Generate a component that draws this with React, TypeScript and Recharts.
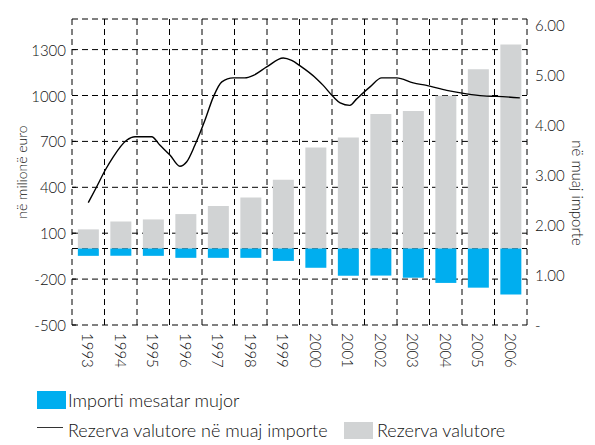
import React from 'react';
import { ComposedChart, Bar, Line, XAxis, YAxis, CartesianGrid, Label } from 'recharts';

const years = ['1993', '1994', '1995', '1996', '1997', '1998', '1999', '2000', '2001', '2002', '2003', '2004', '2005', '2006'];
// reserves, million euro
const reserves = [125, 177, 190, 225, 277, 333, 450, 660, 725, 879, 899, 998, 1172, 1334];
// average monthly imports (shown negative)
const imports = [-48, -48, -48, -61, -61, -61, -81, -126, -178, -177, -191, -225, -256, -301];

// reserves in months of imports, sub-annual readings
const lineX = [1993.0, 1993.26, 1993.52, 1993.77, 1994.18, 1994.44, 1994.95, 1995.21, 1995.52, 1995.82, 1996.03, 1996.28, 1996.59, 1996.85, 1997.11, 1997.46, 1997.82, 1998.08, 1998.49, 1999.0, 1999.26, 1999.52, 2000.03, 2000.23, 2000.54, 2000.75, 2001.05, 2001.26, 2001.67, 2002.03, 2002.49, 2003.0, 2003.41, 2004.03, 2004.64, 2005.16, 2005.57, 2006.28];
const lineMonths = [2.45, 2.77, 3.1, 3.37, 3.7, 3.77, 3.77, 3.6, 3.4, 3.18, 3.27, 3.6, 4.1, 4.57, 4.87, 4.95, 4.95, 5.0, 5.17, 5.35, 5.3, 5.19, 4.93, 4.8, 4.57, 4.45, 4.4, 4.53, 4.77, 4.95, 4.95, 4.85, 4.8, 4.7, 4.63, 4.59, 4.58, 4.55];

const leftTicks = [-500, -200, 0, 100, 400, 700, 1000, 1300, 1500];
const rightTicks = [0, 1, 2, 3, 4, 5, 6];
const boundaryTicks = [1992.5, 1993.5, 1994.5, 1995.5, 1996.5, 1997.5, 1998.5, 1999.5, 2000.5, 2001.5, 2002.5, 2003.5, 2004.5, 2005.5, 2006.5];

const data = years.map((y, i) => ({ year: y, reserve: reserves[i], imports: imports[i] }));
const lineData = lineX.map((x, i) => ({ x, months: lineMonths[i] }));

const FONT = 'Lato, "DejaVu Sans", sans-serif';
const TXT = '#111';
const BLUE = '#00aeef';
const GREY = '#d1d3d4';

const LeftTick = (props: any) => {
  const { x, y, payload } = props;
  const v = payload.value;
  return (
    <g>
      {v !== 1500 && <line x1={x} x2={x + 4} y1={y} y2={y} stroke="#000" />}
      {v !== 0 && v !== 1500 && (
        <text x={x - 6} y={y} textAnchor="end" dominantBaseline="central" fontSize={15} fontWeight={300} fill={TXT} fontFamily={FONT}>
          {v}
        </text>
      )}
    </g>
  );
};

const RightMark = (props: any) => {
  const { x, y, payload } = props;
  if (payload.value === 1500) return <g />;
  return <line x1={x - 4} x2={x} y1={y} y2={y} stroke="#000" />;
};

const RightTick = (props: any) => {
  const { x, y, payload } = props;
  const v = payload.value;
  return (
    <text x={x + 8} y={y} textAnchor="start" dominantBaseline="central" fontSize={15} fontWeight={300} fill={TXT} fontFamily={FONT}>
      {v === 0 ? '-' : v.toFixed(2)}
    </text>
  );
};

const YearTick = (props: any) => {
  const { x, y, payload } = props;
  return (
    <text
      x={x}
      y={y + 8}
      transform={`rotate(90, ${x}, ${y + 8})`}
      textAnchor="start"
      dominantBaseline="central"
      fontSize={15}
      fontWeight={300}
      fill={TXT}
      fontFamily={FONT}
    >
      {payload.value}
    </text>
  );
};

const legendText: React.CSSProperties = { fontFamily: FONT, fontSize: 18, fontWeight: 300, color: TXT, lineHeight: '18px' };

export default function App() {
  return (
    <div style={{ position: 'absolute', left: 0, top: 0, width: 595, height: 445, background: '#fff' }}>
      <ComposedChart
        width={595}
        height={445}
        data={data}
        stackOffset="sign"
        barCategoryGap="18%"
        margin={{ top: 19, right: 0, left: 0, bottom: 70 }}
      >
        <CartesianGrid xAxisId="num" yAxisId="left" stroke="#000" strokeDasharray="6 4" />
        <XAxis xAxisId="cat" dataKey="year" interval={0} axisLine={false} tickLine={false} tickSize={0} tickMargin={0} height={50} tick={<YearTick />} />
        <XAxis xAxisId="num" type="number" dataKey="x" domain={[1992.5, 2006.5]} ticks={boundaryTicks} interval={0} allowDataOverflow hide />
        <YAxis
          yAxisId="left"
          domain={[-500, 1500]}
          ticks={leftTicks}
          interval={0}
          width={72}
          axisLine={false}
          tickLine={false}
          tickSize={0}
          tickMargin={0}
          tick={<LeftTick />}
        >
          <Label
            content={({ viewBox }: any) => {
              const cx = viewBox.x + 21;
              const cy = viewBox.y + viewBox.height / 2;
              return (
                <text x={cx} y={cy} transform={`rotate(-90, ${cx}, ${cy})`} textAnchor="middle" dominantBaseline="central" fontSize={14} fontWeight={300} fill={TXT} fontFamily={FONT}>
                  në milionë euro
                </text>
              );
            }}
          />
        </YAxis>
        <YAxis
          yAxisId="marks"
          orientation="right"
          domain={[-500, 1500]}
          ticks={leftTicks}
          interval={0}
          width={0}
          axisLine={false}
          tickLine={false}
          tickSize={0}
          tickMargin={0}
          tick={<RightMark />}
        />
        <YAxis
          yAxisId="right"
          orientation="right"
          domain={[0, 6.13]}
          ticks={rightTicks}
          interval={0}
          width={68}
          allowDataOverflow
          axisLine={false}
          tickLine={false}
          tickSize={0}
          tickMargin={0}
          tick={<RightTick />}
        >
          <Label
            content={({ viewBox }: any) => {
              const cx = viewBox.x + 51;
              const cy = viewBox.y + viewBox.height / 2 + 21;
              return (
                <text x={cx} y={cy} transform={`rotate(90, ${cx}, ${cy})`} textAnchor="middle" dominantBaseline="central" fontSize={15} fontWeight={300} fill={TXT} fontFamily={FONT}>
                  në muaj importe
                </text>
              );
            }}
          />
        </YAxis>
        <Bar xAxisId="cat" yAxisId="left" dataKey="reserve" stackId="a" fill={GREY} isAnimationActive={false} />
        <Bar xAxisId="cat" yAxisId="left" dataKey="imports" stackId="a" fill={BLUE} isAnimationActive={false} />
        <Line
          xAxisId="num"
          yAxisId="right"
          data={lineData}
          dataKey="months"
          type="monotone"
          dot={false}
          activeDot={false}
          stroke="#000"
          strokeWidth={1.4}
          isAnimationActive={false}
        />
      </ComposedChart>
      <div style={{ position: 'absolute', left: 37, top: 391, display: 'flex', alignItems: 'center' }}>
        <span style={{ width: 29, height: 18, background: BLUE, display: 'inline-block' }} />
        <span style={{ ...legendText, marginLeft: 2 }}>Importi mesatar mujor</span>
      </div>
      <div style={{ position: 'absolute', left: 37, top: 421, display: 'flex', alignItems: 'center' }}>
        <span style={{ width: 26, height: 0, borderTop: '1.5px solid #333', display: 'inline-block', marginTop: -6 }} />
        <span style={{ ...legendText, marginLeft: 5 }}>Rezerva valutore në muaj importe</span>
      </div>
      <div style={{ position: 'absolute', left: 344, top: 421, display: 'flex', alignItems: 'center' }}>
        <span style={{ width: 29, height: 17, background: GREY, display: 'inline-block' }} />
        <span style={{ ...legendText, marginLeft: 4 }}>Rezerva valutore</span>
      </div>
    </div>
  );
}
